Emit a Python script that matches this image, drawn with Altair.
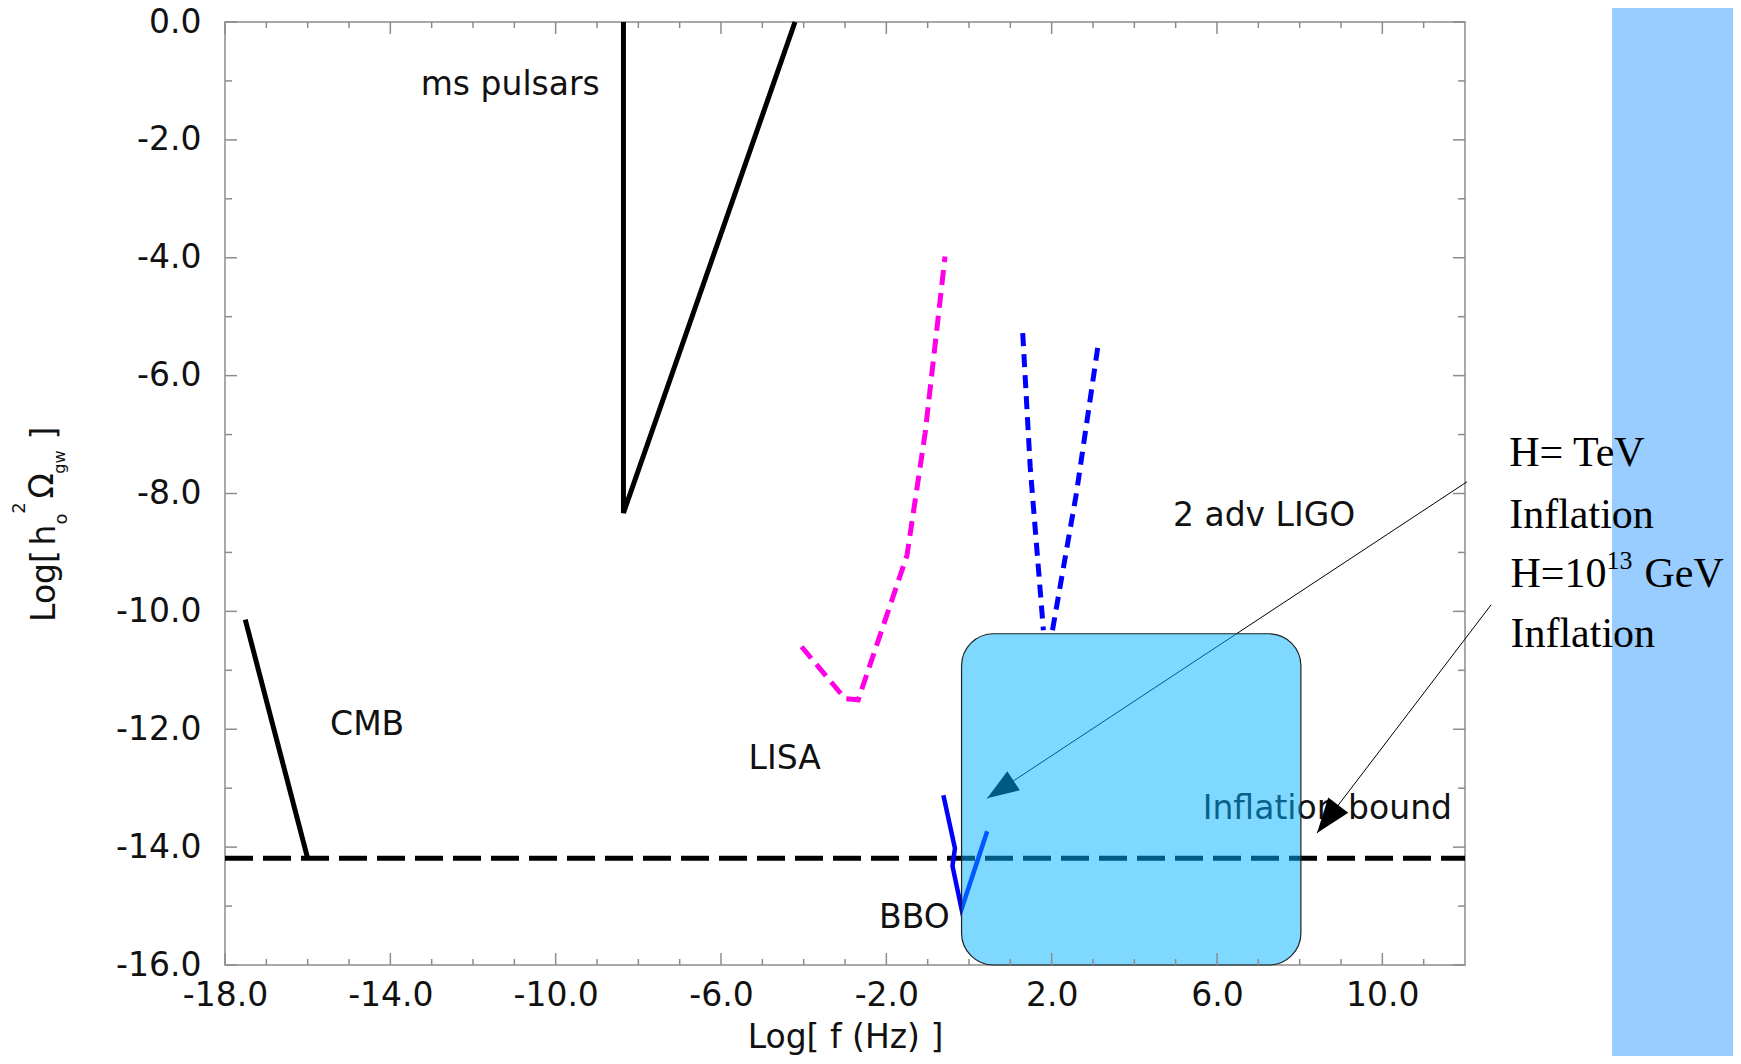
import math
import altair as alt
import pandas as pd

FONT = "DejaVu Sans"
SERIF = "Liberation Serif"
W, H = 1240, 943
XD = [-18, 12]
YD = [-16, 0]

# ---------------- data ----------------
x_major = [-18, -14, -10, -6, -2, 2, 6, 10]
x_minor = [-17, -16, -15, -13, -12, -11, -9, -8, -7, -5, -4, -3, -1, 0, 1, 3, 4, 5, 7, 8, 9, 11]
y_major = [0, -2, -4, -6, -8, -10, -12, -14, -16]
y_minor = [-1, -3, -5, -7, -9, -11, -13, -15]

pulsar_x = [-8.36, -8.36, -4.21]
pulsar_y = [0.0, -8.33, 0.0]
cmb_x = [-17.51, -16.0]
cmb_y = [-10.14, -14.19]
bound_x = [-18.0, 12.0]
bound_y = [-14.19, -14.19]
lisa_x = [-4.05, -3.0, -2.68, -1.5, -1.06, -0.58]
lisa_y = [-10.6, -11.48, -11.5, -9.05, -6.97, -3.98]
ligo_left_x = [1.30, 1.48, 1.80]
ligo_left_y = [-5.28, -7.54, -10.32]
ligo_right_x = [2.02, 2.60, 3.13]
ligo_right_y = [-10.32, -7.99, -5.45]
bbo_x = [-0.62, -0.34, -0.40, -0.18, 0.44]
bbo_y = [-13.12, -14.02, -14.32, -15.05, -13.73]
box_x = [-0.18, 8.03]
box_y = [-10.38, -16.0]
arrow1_x = [12.05, 0.44]
arrow1_y = [-7.8, -13.17]
arrow2_x = [12.63, 8.42]
arrow2_y = [-9.89, -13.76]

label_text = ["ms pulsars", "CMB", "LISA", "2 adv LIGO", "BBO", "Inflation bound"]
label_x = [-11.1, -14.56, -4.46, 7.14, -1.32, 8.67]
label_y = [-1.07, -11.93, -12.51, -8.39, -15.21, -13.36]

side_text = ["H= TeV", "Inflation", "H=10", "Inflation"]
side_x = [13.07, 13.07, 13.1, 13.1]
side_y = [-7.31, -8.36, -9.37, -10.38]
sup_text = ["13"]
gev_text = ["GeV"]

# ---------------- helpers ----------------
XS = alt.Scale(domain=XD, nice=False, zero=False)
YS = alt.Scale(domain=YD, nice=False, zero=False)
X_AXIS = alt.Axis(values=x_major, labelExpr="datum.value + '.0'", ticks=False, domain=False,
                  grid=False, labelFont=FONT, labelFontSize=33, labelColor="#111",
                  labelPadding=14, labelFlush=False, titleFont=FONT, titleFontSize=33,
                  titleFontWeight="normal", titleColor="#111", titlePadding=9)
Y_AXIS = alt.Axis(values=y_major, labelExpr="datum.value + '.0'", ticks=False, domain=False,
                  grid=False, labelFont=FONT, labelFontSize=33, labelColor="#111",
                  labelPadding=24, labelFlush=False)


def ex(f):
    return alt.X(f"{f}:Q", scale=XS, axis=X_AXIS, title="Log[ f (Hz) ]")


def ey(f):
    return alt.Y(f"{f}:Q", scale=YS, axis=Y_AXIS, title=None)


def path_df(xs, ys, g="a"):
    return pd.DataFrame({"x": xs, "y": ys, "i": list(range(len(xs))), "g": [g] * len(xs)})


def line(df, **kw):
    return alt.Chart(df).mark_line(**kw).encode(
        x=ex("x"), y=ey("y"), order="i:Q", detail="g:N")


one = pd.DataFrame({"a": [0]})
sx = W / (XD[1] - XD[0])
sy = H / (YD[1] - YD[0])


def head_angle(xs, ys):
    dx = (xs[1] - xs[0]) * sx
    dy = -(ys[1] - ys[0]) * sy
    return math.degrees(math.atan2(dx, -dy)) % 360


ARROW_PATH = "M0,0L-0.36,1L0.36,1Z"

layers = []

# right-side band
layers.append(alt.Chart(one).mark_rect(color="#99CCFF").encode(
    x=alt.value(W + 147), x2=alt.value(W + 400), y=alt.value(-40), y2=alt.value(H + 200)))

# labels
lab_df = pd.DataFrame({"x": label_x, "y": label_y, "t": label_text})
layers.append(alt.Chart(lab_df).mark_text(font=FONT, fontSize=33, color="#111",
                                           baseline="middle", align="center").encode(
    x=ex("x"), y=ey("y"), text="t:N"))

side_df = pd.DataFrame({"x": side_x, "y": side_y, "t": side_text})
layers.append(alt.Chart(side_df).mark_text(font=SERIF, fontSize=42, color="black",
                                            baseline="middle", align="left").encode(
    x=ex("x"), y=ey("y"), text="t:N"))
sup_df = pd.DataFrame({"x": [side_x[2]], "y": [side_y[2]], "t": sup_text})
layers.append(alt.Chart(sup_df).mark_text(font=SERIF, fontSize=26, color="black",
                                           baseline="middle", align="left", dx=96, dy=-13).encode(
    x=ex("x"), y=ey("y"), text="t:N"))
gev_df = pd.DataFrame({"x": [side_x[2]], "y": [side_y[2]], "t": gev_text})
layers.append(alt.Chart(gev_df).mark_text(font=SERIF, fontSize=42, color="black",
                                           baseline="middle", align="left", dx=134).encode(
    x=ex("x"), y=ey("y"), text="t:N"))

# y-axis title pieces (rotated)
ytitle = [("Log[", 564, -170, 33), ("h", 513, -170, 33), ("o", 497, -158, 18),
          ("2", 486, -200, 18), ("Ω", 464, -172, 33), ("gw", 440, -160, 16), ("]", 411, -170, 33)]
for txt, py, px, fs in ytitle:
    layers.append(alt.Chart(one).mark_text(font=FONT, fontSize=fs, color="#111", angle=270,
                                           align="center", baseline="alphabetic").encode(
        x=alt.value(px), y=alt.value(py), text=alt.value(txt)))

# curves
layers.append(line(path_df(pulsar_x, pulsar_y), color="black", strokeWidth=5))
layers.append(line(path_df(cmb_x, cmb_y), color="black", strokeWidth=5))
layers.append(line(path_df(bound_x, bound_y), color="black", strokeWidth=5, strokeDash=[28, 10]))
layers.append(line(path_df(lisa_x, lisa_y), color="#FF00E6", strokeWidth=5, strokeDash=[15, 8]))
ligo_df = pd.concat([path_df(ligo_left_x, ligo_left_y, "l"), path_df(ligo_right_x, ligo_right_y, "r")])
layers.append(line(ligo_df, color="#0000FF", strokeWidth=5, strokeDash=[13, 8]))
layers.append(line(path_df(bbo_x, bbo_y), color="#0000FF", strokeWidth=4.5))

# arrows
for ax_, ay_, size in [(arrow1_x, arrow1_y, 4000), (arrow2_x, arrow2_y, 4900)]:
    layers.append(line(path_df(ax_, ay_), color="black", strokeWidth=1))
    tip = pd.DataFrame({"x": [ax_[1]], "y": [ay_[1]]})
    layers.append(alt.Chart(tip).mark_point(shape=ARROW_PATH, size=size, angle=head_angle(ax_, ay_),
                                            filled=True, color="black", opacity=1, strokeWidth=0).encode(
        x=ex("x"), y=ey("y")))

# inflation box (semi-transparent overlay)
box_df = pd.DataFrame({"x": [box_x[0]], "x2": [box_x[1]], "y": [box_y[0]], "y2": [box_y[1]]})
layers.append(alt.Chart(box_df).mark_rect(cornerRadius=32, fill="#00B1FF", fillOpacity=0.5,
                                          stroke="#222", strokeWidth=1.2).encode(
    x=ex("x"), x2="x2:Q", y=ey("y"), y2="y2:Q"))

# inward ticks on all four sides
TICK = "#8c8c8c"
for vals, ln in [(x_major, 12), (x_minor, 6)]:
    d = pd.DataFrame({"t": vals})
    layers.append(alt.Chart(d).mark_rule(color=TICK, strokeWidth=1.5).encode(
        x=ex("t"), y=alt.value(H), y2=alt.value(H - ln)))
    layers.append(alt.Chart(d).mark_rule(color=TICK, strokeWidth=1.5).encode(
        x=ex("t"), y=alt.value(0), y2=alt.value(ln)))
for vals, ln in [(y_major, 12), (y_minor, 7)]:
    d = pd.DataFrame({"t": vals})
    layers.append(alt.Chart(d).mark_rule(color=TICK, strokeWidth=1.5).encode(
        y=ey("t"), x=alt.value(0), x2=alt.value(ln)))
    layers.append(alt.Chart(d).mark_rule(color=TICK, strokeWidth=1.5).encode(
        y=ey("t"), x=alt.value(W), x2=alt.value(W - ln)))

chart = alt.layer(*layers).properties(
    width=W, height=H,
    autosize=alt.AutoSizeParams(type="none"),
    padding={"left": 217, "top": 14, "right": 268, "bottom": 91},
    background="white",
).configure_view(stroke=TICK, strokeWidth=1.5)

chart.save("out.html", embed_options={"renderer": "svg", "actions": False})
